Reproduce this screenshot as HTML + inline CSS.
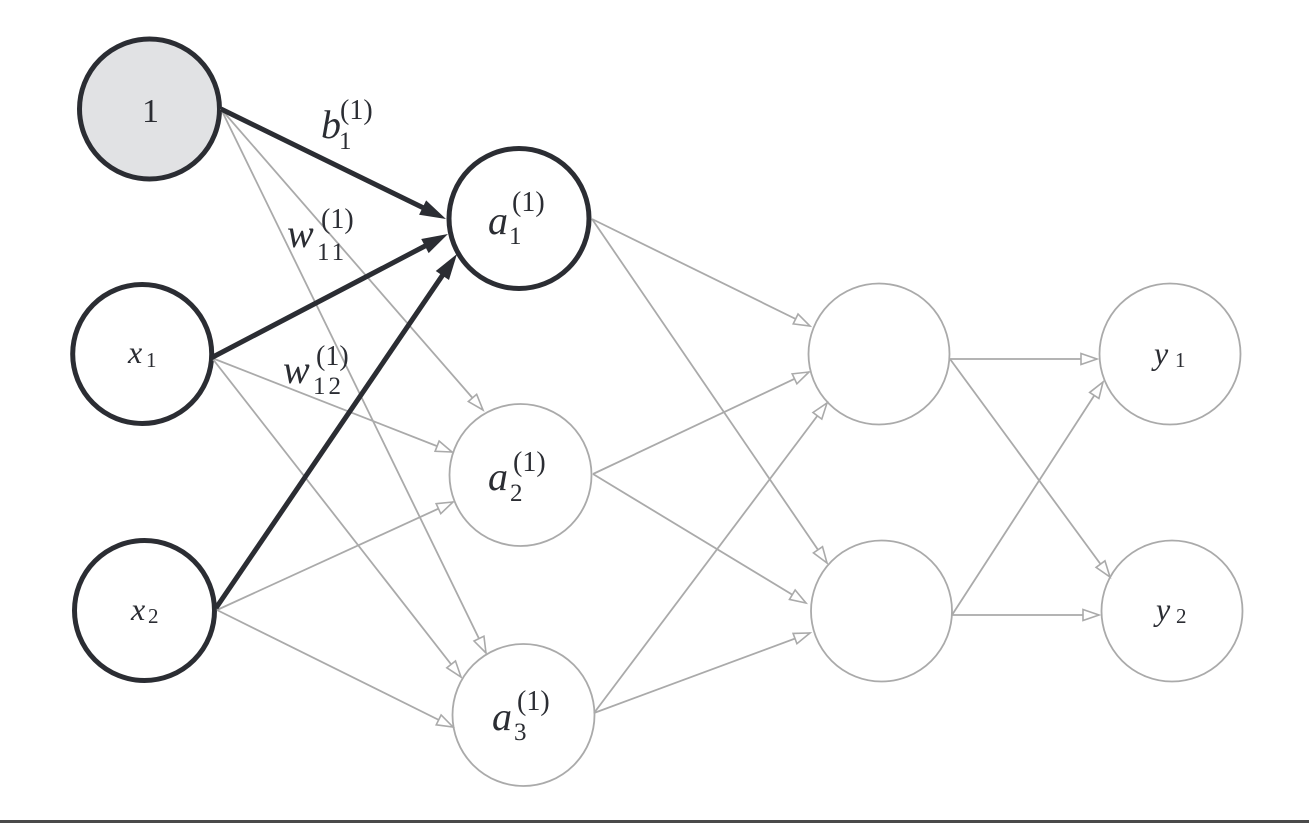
<!DOCTYPE html>
<html>
<head>
<meta charset="utf-8">
<style>
  html, body { margin: 0; padding: 0; background: #ffffff; }
  body { width: 1309px; height: 823px; overflow: hidden; font-family: "Liberation Serif", "Times New Roman", Times, "DejaVu Serif", serif; }
  svg { display: block; }
  svg text { font-family: "Liberation Serif", "Times New Roman", Times, "DejaVu Serif", serif; fill: #2b2d33; }
  .it { font-style: italic; }
</style>
</head>
<body>
<svg width="1309" height="823" viewBox="0 0 1309 823" xmlns="http://www.w3.org/2000/svg">
  <defs>
    <marker id="bold" markerUnits="userSpaceOnUse" markerWidth="30" markerHeight="20" refX="2" refY="8" orient="auto" overflow="visible">
      <path d="M0,0 L26,8 L0,16 Z" fill="#2b2d33"/>
    </marker>
    <marker id="open" markerUnits="userSpaceOnUse" markerWidth="20" markerHeight="14" refX="16" refY="5.5" orient="auto" overflow="visible">
      <path d="M0,0 L16,5.5 L0,11 Z" fill="#ffffff" stroke="#aaaaaa" stroke-width="1.6" stroke-linejoin="miter"/>
    </marker>
  </defs>

  <!-- Nodes -->
  <circle cx="149.5" cy="109" r="70" fill="#e1e2e4" stroke="#2b2d33" stroke-width="5"/>
  <circle cx="142.2" cy="354" r="69.5" fill="none" stroke="#2b2d33" stroke-width="5"/>
  <circle cx="144.5" cy="610.5" r="70" fill="none" stroke="#2b2d33" stroke-width="5"/>
  <circle cx="519" cy="218.5" r="70" fill="none" stroke="#2b2d33" stroke-width="5"/>

  <circle cx="520.5" cy="475" r="71" fill="none" stroke="#aaaaaa" stroke-width="1.8"/>
  <circle cx="523.5" cy="715" r="71" fill="none" stroke="#aaaaaa" stroke-width="1.8"/>
  <circle cx="879" cy="354" r="70.5" fill="none" stroke="#aaaaaa" stroke-width="1.8"/>
  <circle cx="881.5" cy="611" r="70.5" fill="none" stroke="#aaaaaa" stroke-width="1.8"/>
  <circle cx="1170" cy="354" r="70.5" fill="none" stroke="#aaaaaa" stroke-width="1.8"/>
  <circle cx="1172" cy="611" r="70.5" fill="none" stroke="#aaaaaa" stroke-width="1.8"/>

  <!-- Gray edges -->
  <g stroke="#aaaaaa" stroke-width="1.8" fill="none" marker-end="url(#open)">
    <line x1="221" y1="109" x2="483" y2="410"/>
    <line x1="221" y1="109" x2="486" y2="653"/>
    <line x1="212" y1="358" x2="452" y2="452"/>
    <line x1="212" y1="358" x2="461" y2="677"/>
    <line x1="217" y1="610" x2="453" y2="502"/>
    <line x1="217" y1="610" x2="453" y2="727"/>

    <line x1="592" y1="219" x2="810" y2="326"/>
    <line x1="592" y1="219" x2="827" y2="563"/>
    <line x1="593" y1="474" x2="809" y2="372"/>
    <line x1="593" y1="474" x2="806" y2="603"/>
    <line x1="594" y1="713" x2="827" y2="403"/>
    <line x1="594" y1="713" x2="810" y2="633"/>

    <line x1="950" y1="359" x2="1097" y2="359"/>
    <line x1="950" y1="359" x2="1110" y2="577"/>
    <line x1="952" y1="615" x2="1103" y2="382"/>
    <line x1="952" y1="615" x2="1099" y2="615"/>
  </g>

  <!-- Bold edges -->
  <g stroke="#2b2d33" stroke-width="5" fill="none" marker-end="url(#bold)">
    <line x1="221" y1="109" x2="424.4" y2="208.4"/>
    <line x1="211" y1="358" x2="426.7" y2="245.1"/>
    <line x1="216" y1="608" x2="443.5" y2="273.8"/>
  </g>

  <!-- Labels -->
  <g fill="#2b2d33">
  <text x="150.5" y="122" font-size="34" text-anchor="middle">1</text>

  <text class="it" x="128" y="363" font-size="32">x</text>
  <text x="146" y="367" font-size="21">1</text>

  <text class="it" x="131" y="620" font-size="32">x</text>
  <text x="148" y="623" font-size="21">2</text>

  <text class="it" x="1154" y="364" font-size="32">y</text>
  <text x="1175" y="367" font-size="21">1</text>

  <text class="it" x="1156" y="620" font-size="32">y</text>
  <text x="1176" y="623" font-size="21">2</text>

  <!-- a1 -->
  <text class="it" x="488" y="234" font-size="40">a</text>
  <text x="509" y="244" font-size="25">1</text>
  <text x="512" y="211" font-size="28">(1)</text>

  <!-- a2 -->
  <text class="it" x="488" y="490" font-size="40">a</text>
  <text x="510" y="501" font-size="25">2</text>
  <text x="513" y="471" font-size="28">(1)</text>

  <!-- a3 -->
  <text class="it" x="492" y="730" font-size="40">a</text>
  <text x="514" y="740" font-size="25">3</text>
  <text x="517" y="710" font-size="28">(1)</text>

  <!-- b1 -->
  <text class="it" x="321" y="138" font-size="40">b</text>
  <text x="339" y="149" font-size="25">1</text>
  <text x="340" y="119" font-size="28">(1)</text>

  <!-- w11 -->
  <text class="it" x="287" y="247" font-size="40">w</text>
  <text x="317" y="260" font-size="25" letter-spacing="3">11</text>
  <text x="321" y="228" font-size="28">(1)</text>

  <!-- w12 -->
  <text class="it" x="283" y="383" font-size="40">w</text>
  <text x="313" y="394" font-size="25" letter-spacing="3">12</text>
  <text x="316" y="365" font-size="28">(1)</text>
  </g>

  <!-- bottom rule -->
  <rect x="0" y="820" width="1309" height="3" fill="#4a4a4a"/>
</svg>
</body>
</html>
